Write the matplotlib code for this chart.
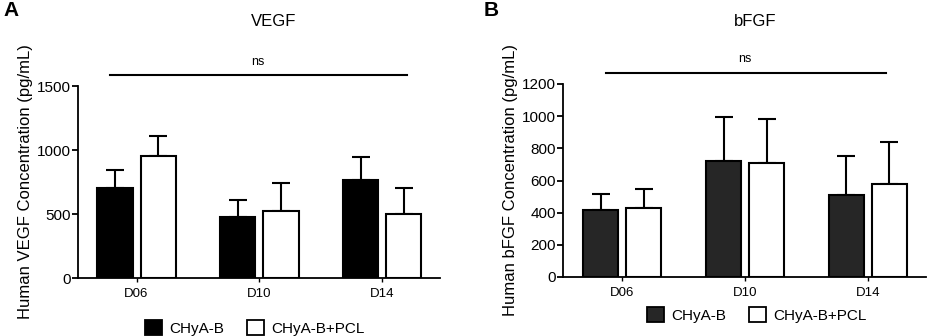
import matplotlib
matplotlib.use("Agg")
import matplotlib.pyplot as plt
from matplotlib.patches import Patch
import numpy as np

plt.rcParams['font.family'] = ['Liberation Sans', 'DejaVu Sans']

days = ["D06", "D10", "D14"]
series = ["CHyA-B", "CHyA-B+PCL"]
vegf_mean = {"CHyA-B": [702, 473, 762], "CHyA-B+PCL": [954, 525, 499]}
vegf_err = {"CHyA-B": [143, 138, 187], "CHyA-B+PCL": [156, 221, 203]}
bfgf_mean = {"CHyA-B": [417, 720, 509], "CHyA-B+PCL": [432, 706, 577]}
bfgf_err = {"CHyA-B": [98, 276, 245], "CHyA-B+PCL": [114, 278, 260]}

W, H = 927, 336
fig = plt.figure(figsize=(W / 100, H / 100), dpi=100)

def make_axes(l, r, b, t):
    return fig.add_axes([l / W, 1 - b / H, (r - l) / W, (b - t) / H])

def draw(ax, means, errs, dark, ylim, yticks, ylabel, xlim):
    x = np.arange(len(days))
    bw = 0.285
    off = 0.175
    colors = {"CHyA-B": dark, "CHyA-B+PCL": "white"}
    for i, s in enumerate(series):
        xs = x + (i * 2 - 1) * off
        ax.bar(xs, means[s], width=bw, color=colors[s], edgecolor="black",
               linewidth=1.5, zorder=2)
        ax.errorbar(xs, means[s], yerr=[np.zeros(3), errs[s]], fmt="none",
                    ecolor="black", elinewidth=1.5, capsize=6.5, capthick=1.5,
                    zorder=1)
    ax.set_xlim(*xlim)
    ax.set_ylim(*ylim)
    ax.set_yticks(yticks)
    ax.set_xticks(x)
    ax.set_xticklabels(days, fontsize=9.5)
    ax.tick_params(axis="y", labelsize=11, width=1.3, length=4, pad=1)
    ax.tick_params(axis="x", width=1.0, length=3, pad=4)
    for sp in ["top", "right"]:
        ax.spines[sp].set_visible(False)
    for sp in ["left", "bottom"]:
        ax.spines[sp].set_linewidth(1.3)
    ax.set_ylabel(ylabel, fontsize=12, labelpad=3)

axA = make_axes(78, 440, 278, 86)
draw(axA, vegf_mean, vegf_err, "black", (0, 1500), [0, 500, 1000, 1500],
     "Human VEGF Concentration (pg/mL)", (-0.476, 2.468))
axA.plot([-0.215, 2.2], [1586, 1586], color="black", lw=1.5, clip_on=False)
axA.text(0.99, 1640, "ns", ha="center", va="bottom", fontsize=9)

axB = make_axes(563, 926, 277, 84)
draw(axB, bfgf_mean, bfgf_err, "#262626", (0, 1200), [0, 200, 400, 600, 800, 1000, 1200],
     "Human bFGF Concentration (pg/mL)", (-0.484, 2.475))
axB.plot([-0.134, 2.15], [1268, 1268], color="black", lw=1.5, clip_on=False)
axB.text(1.0, 1318, "ns", ha="center", va="bottom", fontsize=9)

fig.text(274 / W, 1 - 22 / H, "VEGF", ha="center", va="center", fontsize=12)
fig.text(755 / W, 1 - 21 / H, "bFGF", ha="center", va="center", fontsize=12)
fig.text(3 / W, 1 - 10 / H, "A", ha="left", va="center", fontsize=15, fontweight="bold")
fig.text(484 / W, 1 - 10 / H, "B", ha="left", va="center", fontsize=15, fontweight="bold")

def legend(ax, dark, cx, cy):
    handles = [Patch(facecolor=dark, edgecolor="black", linewidth=1.3),
               Patch(facecolor="white", edgecolor="black", linewidth=1.3)]
    ax.legend(handles, series, loc="center", bbox_to_anchor=(cx / W, 1 - cy / H),
              bbox_transform=fig.transFigure, ncol=2, frameon=False, fontsize=11,
              handlelength=1.1, handleheight=1.1, handletextpad=0.5,
              columnspacing=1.5, borderaxespad=0)

legend(axA, "black", 255, 328)
legend(axB, "#262626", 757, 315)

fig.savefig("out.png", dpi=100)
